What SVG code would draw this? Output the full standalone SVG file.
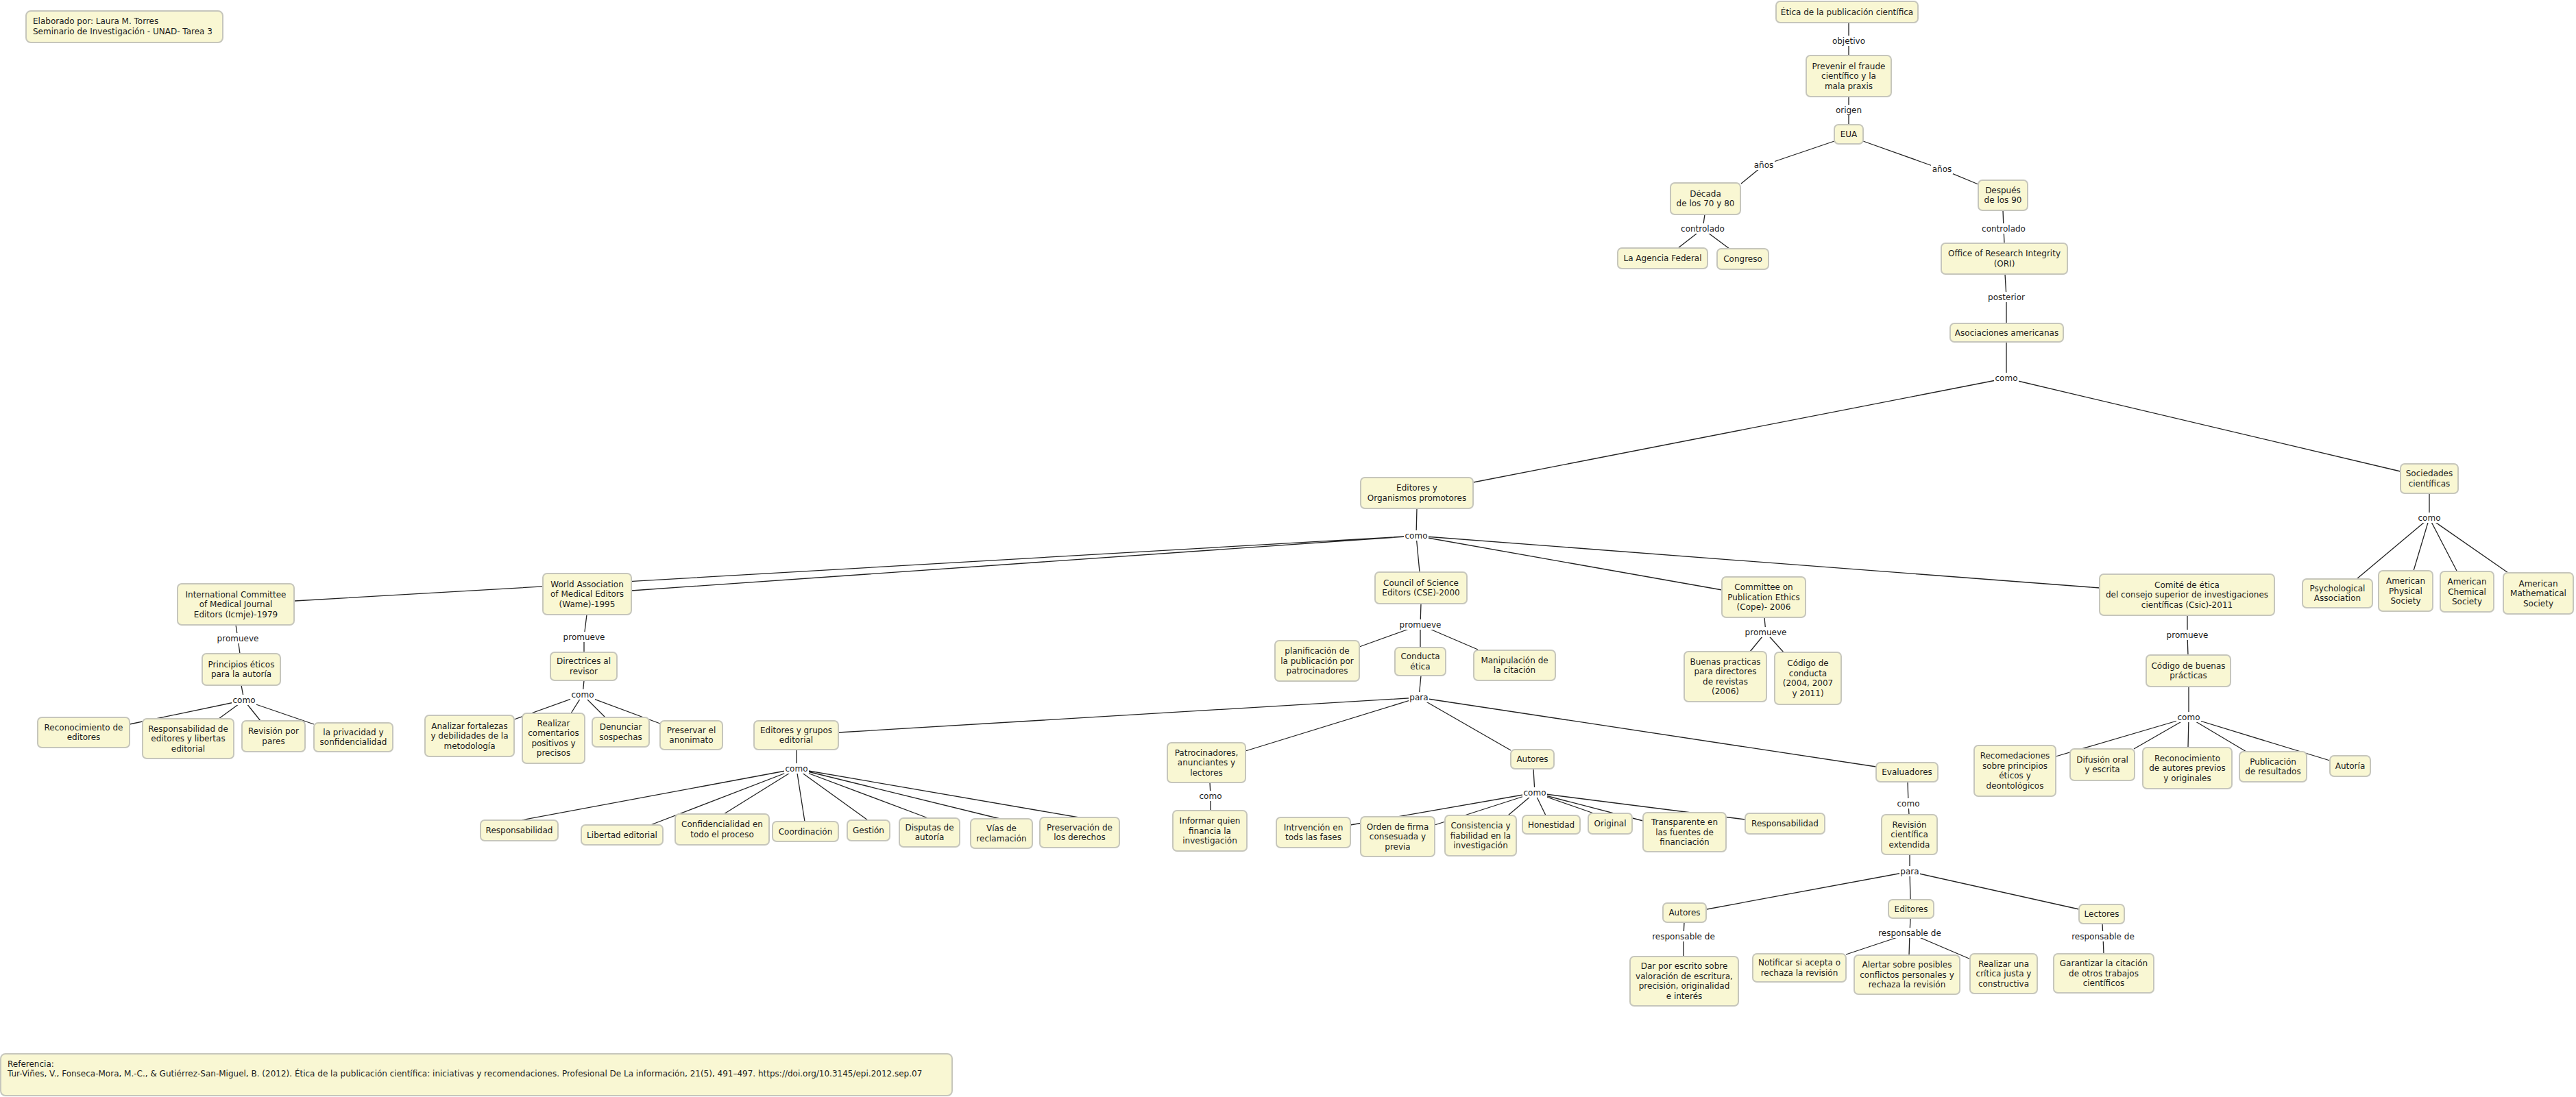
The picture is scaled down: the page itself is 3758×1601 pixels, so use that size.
<svg xmlns="http://www.w3.org/2000/svg" width="3758" height="1601" viewBox="0 0 3758 1601">
<style>
  .bg{fill:#ffffff}
  .n rect{fill:#f9f7d3;stroke:#c6c6bc;stroke-width:2}
  text{font-family:"DejaVu Sans",Verdana,"Liberation Sans",sans-serif;font-size:12px;fill:#1a1a1a}
  .n text{text-anchor:middle}
  .c path{stroke:#222;stroke-width:1.3;fill:none}
  .lb rect{fill:#ffffff}
  .lb text{text-anchor:middle}
</style>
<rect class="bg" x="0" y="0" width="3758" height="1601"/>
<g id="connectors" class="c">
  <path d="M2697 33L2697 60M2697 60L2697 81"/>
  <path d="M2697 141L2697 161M2697 161L2697 182"/>
  <path d="M2676 206L2573 241M2573 241L2540 268"/>
  <path d="M2718 206L2833 247M2833 247L2886 269"/>
  <path d="M2487 313L2484 334M2484 334L2448 362M2484 334L2523 363"/>
  <path d="M2922 307L2923 334M2923 334L2924 355"/>
  <path d="M2925 400L2927 434M2927 434L2927 472"/>
  <path d="M2927 499L2927 552M2927 552L2149 704M2927 552L3502 688"/>
  <path d="M2067 742L2066 782M2066 782L430 877M2066 782L921 862M2066 782L2071 835M2066 782L2512 861M2066 782L3063 858"/>
  <path d="M3544 720L3544 756M3544 756L3438 845M3544 756L3521 833M3544 756L3584 833M3544 756L3659 836"/>
  <path d="M344 912L347 932M347 932L350 954"/>
  <path d="M352 1000L356 1022M356 1022L189 1057M356 1022L319 1049M356 1022L380 1052M356 1022L458 1057"/>
  <path d="M856 897L852 930M852 930L852 952"/>
  <path d="M852 993L850 1014M850 1014L750 1050M850 1014L833 1041M850 1014L883 1047M850 1014L963 1056"/>
  <path d="M2073 881L2072 912M2072 912L1983 944M2072 912L2072 945M2072 912L2156 948"/>
  <path d="M2073 986L2070 1018M2070 1018L1223 1069M2070 1018L1817 1096M2070 1018L2204 1095M2070 1018L2737 1119"/>
  <path d="M1162 1094L1162 1122M1162 1122L760 1197M1162 1122L949 1204M1162 1122L1056 1188M1162 1122L1174 1199M1162 1122L1266 1197M1162 1122L1354 1194M1162 1122L1459 1195M1162 1122L1574 1193"/>
  <path d="M1765 1142L1766 1162M1766 1162L1766 1183"/>
  <path d="M2237 1122L2239 1157M2239 1157L1970 1204M2239 1157L2093 1204M2239 1157L2200 1190M2239 1157L2255 1190M2239 1157L2325 1187M2239 1157L2397 1198M2239 1157L2546 1196"/>
  <path d="M2783 1141L2784 1173M2784 1173L2785 1189"/>
  <path d="M2786 1247L2786 1272M2786 1272L2490 1327M2786 1272L2787 1313M2786 1272L3033 1327"/>
  <path d="M2457 1346L2456 1367M2456 1367L2456 1396"/>
  <path d="M2787 1340L2786 1362M2786 1362L2693 1393M2786 1362L2785 1394M2786 1362L2875 1400"/>
  <path d="M3067 1348L3068 1367M3068 1367L3069 1392"/>
  <path d="M3191 898L3191 927M3191 927L3192 956"/>
  <path d="M3193 1002L3193 1047M3193 1047L2999 1104M3193 1047L3113 1093M3193 1047L3192 1091M3193 1047L3277 1097M3193 1047L3399 1110"/>
  <path d="M2574 901L2576 923M2576 923L2553 951M2576 923L2602 952"/>
  <g class="lb">
    <rect x="2671" y="52" width="52" height="15"/><text x="2697" y="64">objetivo</text>
    <rect x="2676" y="153" width="42" height="15"/><text x="2697" y="165">origen</text>
    <rect x="2557" y="233" width="32" height="15"/><text x="2573" y="245">años</text>
    <rect x="2817" y="239" width="32" height="15"/><text x="2833" y="251">años</text>
    <rect x="2451" y="326" width="66" height="15"/><text x="2484" y="338">controlado</text>
    <rect x="2890" y="326" width="66" height="15"/><text x="2923" y="338">controlado</text>
    <rect x="2898" y="426" width="58" height="15"/><text x="2927" y="438">posterior</text>
    <rect x="2909" y="544" width="36" height="15"/><text x="2927" y="556">como</text>
    <rect x="2048" y="774" width="36" height="15"/><text x="2066" y="786">como</text>
    <rect x="3526" y="748" width="36" height="15"/><text x="3544" y="760">como</text>
    <rect x="316" y="924" width="62" height="15"/><text x="347" y="936">promueve</text>
    <rect x="338" y="1014" width="36" height="15"/><text x="356" y="1026">como</text>
    <rect x="821" y="922" width="62" height="15"/><text x="852" y="934">promueve</text>
    <rect x="832" y="1006" width="36" height="15"/><text x="850" y="1018">como</text>
    <rect x="2041" y="904" width="62" height="15"/><text x="2072" y="916">promueve</text>
    <rect x="2055" y="1010" width="30" height="15"/><text x="2070" y="1022">para</text>
    <rect x="1144" y="1114" width="36" height="15"/><text x="1162" y="1126">como</text>
    <rect x="1748" y="1154" width="36" height="15"/><text x="1766" y="1166">como</text>
    <rect x="2221" y="1149" width="36" height="15"/><text x="2239" y="1161">como</text>
    <rect x="2766" y="1165" width="36" height="15"/><text x="2784" y="1177">como</text>
    <rect x="2771" y="1264" width="30" height="15"/><text x="2786" y="1276">para</text>
    <rect x="2409" y="1359" width="94" height="15"/><text x="2456" y="1371">responsable de</text>
    <rect x="2739" y="1354" width="94" height="15"/><text x="2786" y="1366">responsable de</text>
    <rect x="3021" y="1359" width="94" height="15"/><text x="3068" y="1371">responsable de</text>
    <rect x="3160" y="919" width="62" height="15"/><text x="3191" y="931">promueve</text>
    <rect x="3175" y="1039" width="36" height="15"/><text x="3193" y="1051">como</text>
    <rect x="2545" y="915" width="62" height="15"/><text x="2576" y="927">promueve</text>
  </g>
</g>
<g id="n_header" class="n"><rect x="38" y="16" width="287" height="46" rx="7"/><text x="48" y="35" style="text-anchor:start">Elaborado por: Laura M. Torres</text><text x="48" y="50" style="text-anchor:start">Seminario de Investigación - UNAD- Tarea 3</text></g>
<g id="n_etica" class="n"><rect x="2591" y="2" width="207" height="31" rx="6"/><text x="2694.5" y="21.5">Ética de la publicación científica</text></g>
<g id="n_prevenir" class="n"><rect x="2635" y="81" width="124" height="60" rx="6"/><text><tspan x="2697" y="100.5">Prevenir el fraude</tspan><tspan x="2697" y="115">científico y la</tspan><tspan x="2697" y="129.5">mala praxis</tspan></text></g>
<g id="n_eua" class="n"><rect x="2676" y="182" width="42" height="28" rx="6"/><text x="2697" y="200">EUA</text></g>
<g id="n_decada" class="n"><rect x="2437" y="267" width="102" height="46" rx="6"/><text><tspan x="2488" y="286.75">Década</tspan><tspan x="2488" y="301.25">de los 70 y 80</tspan></text></g>
<g id="n_agencia" class="n"><rect x="2360" y="362" width="131" height="30" rx="6"/><text x="2425.5" y="381">La Agencia Federal</text></g>
<g id="n_congreso" class="n"><rect x="2505" y="363" width="75" height="30" rx="6"/><text x="2542.5" y="382">Congreso</text></g>
<g id="n_despues" class="n"><rect x="2886" y="263" width="72" height="44" rx="6"/><text><tspan x="2922" y="281.75">Después</tspan><tspan x="2922" y="296.25">de los 90</tspan></text></g>
<g id="n_ori" class="n"><rect x="2832" y="355" width="184" height="45" rx="6"/><text><tspan x="2924" y="374.25">Office of Research Integrity</tspan><tspan x="2924" y="388.75">(ORI)</tspan></text></g>
<g id="n_asoc" class="n"><rect x="2845" y="472" width="165" height="27" rx="6"/><text x="2927.5" y="489.5">Asociaciones americanas</text></g>
<g id="n_editores_org" class="n"><rect x="1985" y="697" width="164" height="45" rx="6"/><text><tspan x="2067" y="716.25">Editores y</tspan><tspan x="2067" y="730.75">Organismos promotores</tspan></text></g>
<g id="n_sociedades" class="n"><rect x="3502" y="677" width="84" height="43" rx="6"/><text><tspan x="3544" y="695.25">Sociedades</tspan><tspan x="3544" y="709.75">científicas</tspan></text></g>
<g id="n_icmje" class="n"><rect x="259" y="852" width="170" height="60" rx="6"/><text><tspan x="344" y="871.5">International Committee</tspan><tspan x="344" y="886">of Medical Journal</tspan><tspan x="344" y="900.5">Editors (Icmje)-1979</tspan></text></g>
<g id="n_wame" class="n"><rect x="792" y="837" width="129" height="60" rx="6"/><text><tspan x="856.5" y="856.5">World Association</tspan><tspan x="856.5" y="871">of Medical Editors</tspan><tspan x="856.5" y="885.5">(Wame)-1995</tspan></text></g>
<g id="n_cse" class="n"><rect x="2006" y="835" width="134" height="46" rx="6"/><text><tspan x="2073" y="854.75">Council of Science</tspan><tspan x="2073" y="869.25">Editors (CSE)-2000</tspan></text></g>
<g id="n_cope" class="n"><rect x="2512" y="842" width="122" height="59" rx="6"/><text><tspan x="2573" y="861">Committee on</tspan><tspan x="2573" y="875.5">Publication Ethics</tspan><tspan x="2573" y="890">(Cope)- 2006</tspan></text></g>
<g id="n_csic" class="n"><rect x="3063" y="838" width="255" height="60" rx="6"/><text><tspan x="3190.5" y="857.5">Comité de ética</tspan><tspan x="3190.5" y="872">del consejo superior de investigaciones</tspan><tspan x="3190.5" y="886.5">científicas (Csic)-2011</tspan></text></g>
<g id="n_psych" class="n"><rect x="3359" y="845" width="102" height="42" rx="6"/><text><tspan x="3410" y="862.75">Psychological</tspan><tspan x="3410" y="877.25">Association</tspan></text></g>
<g id="n_aps" class="n"><rect x="3470" y="833" width="79" height="59" rx="6"/><text><tspan x="3509.5" y="852">American</tspan><tspan x="3509.5" y="866.5">Physical</tspan><tspan x="3509.5" y="881">Society</tspan></text></g>
<g id="n_acs" class="n"><rect x="3560" y="834" width="78" height="59" rx="6"/><text><tspan x="3599" y="853">American</tspan><tspan x="3599" y="867.5">Chemical</tspan><tspan x="3599" y="882">Society</tspan></text></g>
<g id="n_ams" class="n"><rect x="3652" y="836" width="102" height="60" rx="6"/><text><tspan x="3703" y="855.5">American</tspan><tspan x="3703" y="870">Mathematical</tspan><tspan x="3703" y="884.5">Society</tspan></text></g>
<g id="n_principios" class="n"><rect x="295" y="954" width="114" height="46" rx="6"/><text><tspan x="352" y="973.75">Principios éticos</tspan><tspan x="352" y="988.25">para la autoría</tspan></text></g>
<g id="n_directrices" class="n"><rect x="803" y="952" width="97" height="41" rx="6"/><text><tspan x="851.5" y="969.25">Directrices al</tspan><tspan x="851.5" y="983.75">revisor</tspan></text></g>
<g id="n_planif" class="n"><rect x="1860" y="935" width="123" height="59" rx="6"/><text><tspan x="1921.5" y="954">planificación de</tspan><tspan x="1921.5" y="968.5">la publicación por</tspan><tspan x="1921.5" y="983">patrocinadores</tspan></text></g>
<g id="n_conducta" class="n"><rect x="2035" y="945" width="74" height="41" rx="6"/><text><tspan x="2072" y="962.25">Conducta</tspan><tspan x="2072" y="976.75">ética</tspan></text></g>
<g id="n_manip" class="n"><rect x="2150" y="949" width="119" height="44" rx="6"/><text><tspan x="2209.5" y="967.75">Manipulación de</tspan><tspan x="2209.5" y="982.25">la citación</tspan></text></g>
<g id="n_buenas" class="n"><rect x="2457" y="951" width="120" height="73" rx="6"/><text><tspan x="2517" y="969.75">Buenas practicas</tspan><tspan x="2517" y="984.25">para directores</tspan><tspan x="2517" y="998.75">de revistas</tspan><tspan x="2517" y="1013.25">(2006)</tspan></text></g>
<g id="n_codigo_cond" class="n"><rect x="2589" y="952" width="97" height="76" rx="6"/><text><tspan x="2637.5" y="972.25">Código de</tspan><tspan x="2637.5" y="986.75">conducta</tspan><tspan x="2637.5" y="1001.25">(2004, 2007</tspan><tspan x="2637.5" y="1015.75">y 2011)</tspan></text></g>
<g id="n_codigo_bp" class="n"><rect x="3131" y="956" width="123" height="46" rx="6"/><text><tspan x="3192.5" y="975.75">Código de buenas</tspan><tspan x="3192.5" y="990.25">prácticas</tspan></text></g>
<g id="n_recon_ed" class="n"><rect x="55" y="1047" width="134" height="44" rx="6"/><text><tspan x="122" y="1065.75">Reconocimiento de</tspan><tspan x="122" y="1080.25">editores</tspan></text></g>
<g id="n_resp_ed" class="n"><rect x="208" y="1049" width="133" height="58" rx="6"/><text><tspan x="274.5" y="1067.5">Responsabilidad de</tspan><tspan x="274.5" y="1082">editores y libertas</tspan><tspan x="274.5" y="1096.5">editorial</tspan></text></g>
<g id="n_revision_pares" class="n"><rect x="353" y="1052" width="92" height="45" rx="6"/><text><tspan x="399" y="1071.25">Revisión por</tspan><tspan x="399" y="1085.75">pares</tspan></text></g>
<g id="n_privacidad" class="n"><rect x="458" y="1055" width="115" height="42" rx="6"/><text><tspan x="515.5" y="1072.75">la privacidad y</tspan><tspan x="515.5" y="1087.25">sonfidencialidad</tspan></text></g>
<g id="n_analizar" class="n"><rect x="620" y="1044" width="130" height="60" rx="6"/><text><tspan x="685" y="1063.5">Analizar fortalezas</tspan><tspan x="685" y="1078">y debilidades de la</tspan><tspan x="685" y="1092.5">metodología</tspan></text></g>
<g id="n_realizar_com" class="n"><rect x="762" y="1041" width="91" height="73" rx="6"/><text><tspan x="807.5" y="1059.75">Realizar</tspan><tspan x="807.5" y="1074.25">comentarios</tspan><tspan x="807.5" y="1088.75">positivos y</tspan><tspan x="807.5" y="1103.25">precisos</tspan></text></g>
<g id="n_denunciar" class="n"><rect x="864" y="1047" width="83" height="43" rx="6"/><text><tspan x="905.5" y="1065.25">Denunciar</tspan><tspan x="905.5" y="1079.75">sospechas</tspan></text></g>
<g id="n_preservar" class="n"><rect x="963" y="1052" width="91" height="42" rx="6"/><text><tspan x="1008.5" y="1069.75">Preservar el</tspan><tspan x="1008.5" y="1084.25">anonimato</tspan></text></g>
<g id="n_ed_grupos" class="n"><rect x="1100" y="1052" width="123" height="42" rx="6"/><text><tspan x="1161.5" y="1069.75">Editores y grupos</tspan><tspan x="1161.5" y="1084.25">editorial</tspan></text></g>
<g id="n_patroc" class="n"><rect x="1703" y="1084" width="114" height="58" rx="6"/><text><tspan x="1760" y="1102.5">Patrocinadores,</tspan><tspan x="1760" y="1117">anunciantes y</tspan><tspan x="1760" y="1131.5">lectores</tspan></text></g>
<g id="n_autores1" class="n"><rect x="2204" y="1094" width="63" height="28" rx="6"/><text x="2235.5" y="1112">Autores</text></g>
<g id="n_evaluadores" class="n"><rect x="2737" y="1113" width="90" height="28" rx="6"/><text x="2782" y="1131">Evaluadores</text></g>
<g id="n_recomed" class="n"><rect x="2880" y="1088" width="119" height="74" rx="6"/><text><tspan x="2939.5" y="1107.25">Recomedaciones</tspan><tspan x="2939.5" y="1121.75">sobre principios</tspan><tspan x="2939.5" y="1136.25">éticos y</tspan><tspan x="2939.5" y="1150.75">deontológicos</tspan></text></g>
<g id="n_difusion" class="n"><rect x="3020" y="1093" width="94" height="46" rx="6"/><text><tspan x="3067" y="1112.75">Difusión oral</tspan><tspan x="3067" y="1127.25">y escrita</tspan></text></g>
<g id="n_recon_aut" class="n"><rect x="3126" y="1091" width="130" height="60" rx="6"/><text><tspan x="3191" y="1110.5">Reconocimiento</tspan><tspan x="3191" y="1125">de autores previos</tspan><tspan x="3191" y="1139.5">y originales</tspan></text></g>
<g id="n_publicacion" class="n"><rect x="3267" y="1097" width="98" height="44" rx="6"/><text><tspan x="3316" y="1115.75">Publicación</tspan><tspan x="3316" y="1130.25">de resultados</tspan></text></g>
<g id="n_autoria" class="n"><rect x="3399" y="1103" width="59" height="30" rx="6"/><text x="3428.5" y="1122">Autoría</text></g>
<g id="n_resp1" class="n"><rect x="701" y="1197" width="113" height="30" rx="6"/><text x="757.5" y="1216">Responsabilidad</text></g>
<g id="n_libertad" class="n"><rect x="848" y="1204" width="119" height="29" rx="6"/><text x="907.5" y="1222.5">Libertad editorial</text></g>
<g id="n_confid" class="n"><rect x="985" y="1188" width="137" height="45" rx="6"/><text><tspan x="1053.5" y="1207.25">Confidencialidad en</tspan><tspan x="1053.5" y="1221.75">todo el proceso</tspan></text></g>
<g id="n_coord" class="n"><rect x="1127" y="1199" width="96" height="29" rx="6"/><text x="1175" y="1217.5">Coordinación</text></g>
<g id="n_gestion" class="n"><rect x="1236" y="1197" width="62" height="30" rx="6"/><text x="1267" y="1216">Gestión</text></g>
<g id="n_disputas" class="n"><rect x="1312" y="1194" width="88" height="42" rx="6"/><text><tspan x="1356" y="1211.75">Disputas de</tspan><tspan x="1356" y="1226.25">autoría</tspan></text></g>
<g id="n_vias" class="n"><rect x="1416" y="1195" width="90" height="43" rx="6"/><text><tspan x="1461" y="1213.25">Vías de</tspan><tspan x="1461" y="1227.75">reclamación</tspan></text></g>
<g id="n_preserv_der" class="n"><rect x="1517" y="1193" width="116" height="44" rx="6"/><text><tspan x="1575" y="1211.75">Preservación de</tspan><tspan x="1575" y="1226.25">los derechos</tspan></text></g>
<g id="n_informar" class="n"><rect x="1711" y="1183" width="108" height="59" rx="6"/><text><tspan x="1765" y="1202">Informar quien</tspan><tspan x="1765" y="1216.5">financia la</tspan><tspan x="1765" y="1231">investigación</tspan></text></g>
<g id="n_intrv" class="n"><rect x="1862" y="1193" width="108" height="44" rx="6"/><text><tspan x="1916" y="1211.75">Intrvención en</tspan><tspan x="1916" y="1226.25">tods las fases</tspan></text></g>
<g id="n_orden" class="n"><rect x="1985" y="1192" width="108" height="58" rx="6"/><text><tspan x="2039" y="1210.5">Orden de firma</tspan><tspan x="2039" y="1225">consesuada y</tspan><tspan x="2039" y="1239.5">previa</tspan></text></g>
<g id="n_consist" class="n"><rect x="2108" y="1190" width="104" height="59" rx="6"/><text><tspan x="2160" y="1209">Consistencia y</tspan><tspan x="2160" y="1223.5">fiabilidad en la</tspan><tspan x="2160" y="1238">investigación</tspan></text></g>
<g id="n_honest" class="n"><rect x="2221" y="1190" width="84" height="27" rx="6"/><text x="2263" y="1207.5">Honestidad</text></g>
<g id="n_original" class="n"><rect x="2317" y="1187" width="64" height="30" rx="6"/><text x="2349" y="1206">Original</text></g>
<g id="n_transp" class="n"><rect x="2397" y="1186" width="121" height="57" rx="6"/><text><tspan x="2457.5" y="1204">Transparente en</tspan><tspan x="2457.5" y="1218.5">las fuentes de</tspan><tspan x="2457.5" y="1233">financiación</tspan></text></g>
<g id="n_resp2" class="n"><rect x="2546" y="1187" width="116" height="30" rx="6"/><text x="2604" y="1206">Responsabilidad</text></g>
<g id="n_revision_ext" class="n"><rect x="2745" y="1189" width="81" height="58" rx="6"/><text><tspan x="2785.5" y="1207.5">Revisión</tspan><tspan x="2785.5" y="1222">científica</tspan><tspan x="2785.5" y="1236.5">extendida</tspan></text></g>
<g id="n_autores2" class="n"><rect x="2426" y="1318" width="63" height="28" rx="6"/><text x="2457.5" y="1336">Autores</text></g>
<g id="n_editores2" class="n"><rect x="2755" y="1313" width="66" height="27" rx="6"/><text x="2788" y="1330.5">Editores</text></g>
<g id="n_lectores" class="n"><rect x="3033" y="1320" width="66" height="28" rx="6"/><text x="3066" y="1338">Lectores</text></g>
<g id="n_dar" class="n"><rect x="2378" y="1396" width="158" height="72" rx="6"/><text><tspan x="2457" y="1414.25">Dar por escrito sobre</tspan><tspan x="2457" y="1428.75">valoración de escritura,</tspan><tspan x="2457" y="1443.25">precisión, originalidad</tspan><tspan x="2457" y="1457.75">e interés</tspan></text></g>
<g id="n_notificar" class="n"><rect x="2557" y="1392" width="136" height="41" rx="6"/><text><tspan x="2625" y="1409.25">Notificar si acepta o</tspan><tspan x="2625" y="1423.75">rechaza la revisión</tspan></text></g>
<g id="n_alertar" class="n"><rect x="2705" y="1394" width="154" height="57" rx="6"/><text><tspan x="2782" y="1412">Alertar sobre posibles</tspan><tspan x="2782" y="1426.5">conflictos personales y</tspan><tspan x="2782" y="1441">rechaza la revisión</tspan></text></g>
<g id="n_realizar_crit" class="n"><rect x="2874" y="1392" width="98" height="58" rx="6"/><text><tspan x="2923" y="1410.5">Realizar una</tspan><tspan x="2923" y="1425">crítica justa y</tspan><tspan x="2923" y="1439.5">constructiva</tspan></text></g>
<g id="n_garantizar" class="n"><rect x="2996" y="1392" width="146" height="57" rx="6"/><text><tspan x="3069" y="1410">Garantizar la citación</tspan><tspan x="3069" y="1424.5">de otros trabajos</tspan><tspan x="3069" y="1439">científicos</tspan></text></g>
<g id="n_referencia" class="n"><rect x="1" y="1538" width="1388" height="61" rx="7"/><text x="11" y="1557" style="text-anchor:start">Referencia:</text><text x="11" y="1571" style="text-anchor:start">Tur-Viñes, V., Fonseca-Mora, M.-C., &amp; Gutiérrez-San-Miguel, B. (2012). Ética de la publicación científica: iniciativas y recomendaciones. Profesional De La información, 21(5), 491–497. https://doi.org/10.3145/epi.2012.sep.07</text></g>
</svg>
